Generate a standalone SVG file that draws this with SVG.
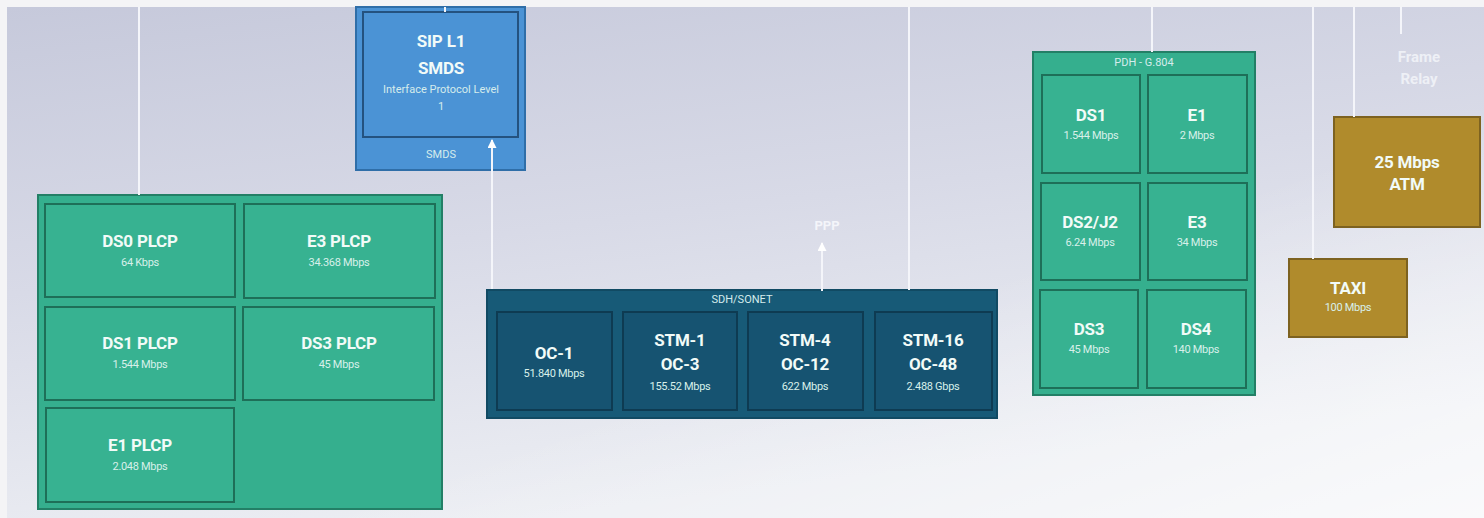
<svg xmlns="http://www.w3.org/2000/svg" width="1484" height="518" viewBox="0 0 1484 518">
<defs>
<linearGradient id="bg" x1="0" y1="0" x2="0.35" y2="1">
<stop offset="0" stop-color="#c6c9db"/>
<stop offset="0.5" stop-color="#d8dae7"/>
<stop offset="1" stop-color="#eceef3"/>
</linearGradient>
<linearGradient id="bg2" x1="0" y1="0" x2="1" y2="1">
<stop offset="0.6" stop-color="#ffffff" stop-opacity="0"/>
<stop offset="1" stop-color="#ffffff" stop-opacity="0.7"/>
</linearGradient>
<marker id="ah" viewBox="0 0 10 10" refX="9" refY="5" markerWidth="10" markerHeight="9" markerUnits="userSpaceOnUse" orient="auto">
<path d="M0,0 L10,5 L0,10 Z" fill="#ffffff"/>
</marker>
</defs>
<style>
text{font-family:Roboto,"Liberation Sans",sans-serif;fill:#f2fbf8;text-anchor:middle}
.t{font-weight:bold;font-size:17px;letter-spacing:-0.2px}
.s{font-size:11px;fill:#d8f0ea;letter-spacing:-0.3px}
.h{font-size:11px;fill:#d5ecec}
.grn{fill:#35af8e;stroke:#237f66;stroke-width:2}
.cg{fill:#37b291;stroke:#1e6f58;stroke-width:2}
.sdh{fill:#175a77;stroke:#114a63;stroke-width:2}
.cs{fill:#165371;stroke:#0e3b52;stroke-width:2}
.gold{fill:#b08b2c;stroke:#7d6220;stroke-width:2}
.wl{stroke:#f4f5fa;stroke-width:2;fill:none}
</style>
<rect x="0" y="0" width="1484" height="518" fill="#f4f4f6"/>
<rect x="7" y="7" width="1477" height="511" fill="url(#bg)"/>
<rect x="7" y="7" width="1477" height="511" fill="url(#bg2)"/>

<g id="sip">
<rect x="356" y="7" width="169" height="163" fill="#4b93d5" stroke="#2f6ea8" stroke-width="2"/>
<rect x="363" y="12" width="155" height="125" fill="#4b93d5" stroke="#24527f" stroke-width="2"/>
<text class="t" x="441" y="47">SIP L1</text>
<text class="t" x="441" y="74">SMDS</text>
<text class="h" x="441" y="93" fill="#d8eaf8">Interface Protocol Level</text>
<text class="h" x="441" y="110">1</text>
<text class="h" x="441" y="158">SMDS</text>
</g>

<g id="plcp">
<rect class="grn" x="38" y="195" width="404" height="314"/>
<g id="ds0-plcp"><rect class="cg" x="45" y="204" width="190" height="93"/>
<text class="t" x="140" y="247">DS0 PLCP</text><text class="s" x="140" y="266">64 Kbps</text></g>
<g id="e3-plcp"><rect class="cg" x="244" y="204" width="191" height="94"/>
<text class="t" x="339" y="247">E3 PLCP</text><text class="s" x="339" y="266">34.368 Mbps</text></g>
<g id="ds1-plcp"><rect class="cg" x="45" y="307" width="190" height="93"/>
<text class="t" x="140" y="349">DS1 PLCP</text><text class="s" x="140" y="368">1.544 Mbps</text></g>
<g id="ds3-plcp"><rect class="cg" x="243" y="307" width="191" height="93"/>
<text class="t" x="339" y="349">DS3 PLCP</text><text class="s" x="339" y="368">45 Mbps</text></g>
<g id="e1-plcp"><rect class="cg" x="46" y="408" width="188" height="94"/>
<text class="t" x="140" y="451">E1 PLCP</text><text class="s" x="140" y="470">2.048 Mbps</text></g>
</g>

<g id="sdh">
<rect class="sdh" x="487" y="290" width="510" height="128"/>
<text class="h" x="742" y="303">SDH/SONET</text>
<g id="oc1"><rect class="cs" x="497" y="312" width="115" height="98"/>
<text class="t" x="554" y="359">OC-1</text><text class="s" x="554" y="377">51.840 Mbps</text></g>
<g id="stm1"><rect class="cs" x="623" y="312" width="114" height="98"/>
<text class="t" x="680" y="346">STM-1</text><text class="t" x="680" y="370">OC-3</text><text class="s" x="680" y="390">155.52 Mbps</text></g>
<g id="stm4"><rect class="cs" x="748" y="312" width="115" height="98"/>
<text class="t" x="805" y="346">STM-4</text><text class="t" x="805" y="370">OC-12</text><text class="s" x="805" y="390">622 Mbps</text></g>
<g id="stm16"><rect class="cs" x="875" y="312" width="117" height="98"/>
<text class="t" x="933" y="346">STM-16</text><text class="t" x="933" y="370">OC-48</text><text class="s" x="933" y="390">2.488 Gbps</text></g>
</g>
<text x="827" y="230" style="font-weight:bold;font-size:13px;fill:#f4f5fa">PPP</text>

<g id="pdh">
<rect class="grn" x="1033" y="52" width="222" height="343"/>
<text class="h" x="1144" y="66">PDH - G.804</text>
<g id="pdh-ds1"><rect class="cg" x="1042" y="75" width="98" height="98"/>
<text class="t" x="1091" y="121">DS1</text><text class="s" x="1091" y="139">1.544 Mbps</text></g>
<g id="pdh-e1"><rect class="cg" x="1148" y="75" width="99" height="98"/>
<text class="t" x="1197" y="121">E1</text><text class="s" x="1197" y="139">2 Mbps</text></g>
<g id="pdh-ds2"><rect class="cg" x="1041" y="183" width="99" height="97"/>
<text class="t" x="1090" y="228">DS2/J2</text><text class="s" x="1090" y="246">6.24 Mbps</text></g>
<g id="pdh-e3"><rect class="cg" x="1148" y="183" width="99" height="97"/>
<text class="t" x="1197" y="228">E3</text><text class="s" x="1197" y="246">34 Mbps</text></g>
<g id="pdh-ds3"><rect class="cg" x="1040" y="290" width="98" height="98"/>
<text class="t" x="1089" y="335">DS3</text><text class="s" x="1089" y="353">45 Mbps</text></g>
<g id="pdh-ds4"><rect class="cg" x="1147" y="290" width="99" height="98"/>
<text class="t" x="1196" y="335">DS4</text><text class="s" x="1196" y="353">140 Mbps</text></g>
</g>

<g id="atm">
<rect class="gold" x="1334" y="117" width="146" height="110"/>
<text class="t" x="1407" y="168" fill="#fbf3dc">25 Mbps</text>
<text class="t" x="1407" y="190" fill="#fbf3dc">ATM</text>
</g>
<g id="taxi">
<rect class="gold" x="1289" y="259" width="118" height="78"/>
<text class="t" x="1348" y="294" fill="#fbf3dc">TAXI</text>
<text class="s" x="1348" y="311" fill="#f0e6c4">100 Mbps</text>
</g>
<g id="frame-relay">
<text x="1419" y="62" style="font-weight:bold;font-size:15px;fill:#eef0f6">Frame</text>
<text x="1419" y="84" style="font-weight:bold;font-size:15px;fill:#eef0f6">Relay</text>
</g>

<g id="connectors">
<line class="wl" x1="139" y1="7" x2="139" y2="195"/>
<line class="wl" x1="445" y1="7" x2="445" y2="12"/>
<line class="wl" x1="909" y1="7" x2="909" y2="290"/>
<line class="wl" x1="1152" y1="7" x2="1152" y2="52"/>
<line class="wl" x1="1313" y1="7" x2="1313" y2="259"/>
<line class="wl" x1="1354" y1="7" x2="1354" y2="117"/>
<line class="wl" x1="1401" y1="7" x2="1401" y2="34"/>
<line class="wl" x1="492" y1="289" x2="492" y2="140" marker-end="url(#ah)"/>
<line class="wl" x1="822" y1="291" x2="822" y2="243" marker-end="url(#ah)"/>
</g>
</svg>
